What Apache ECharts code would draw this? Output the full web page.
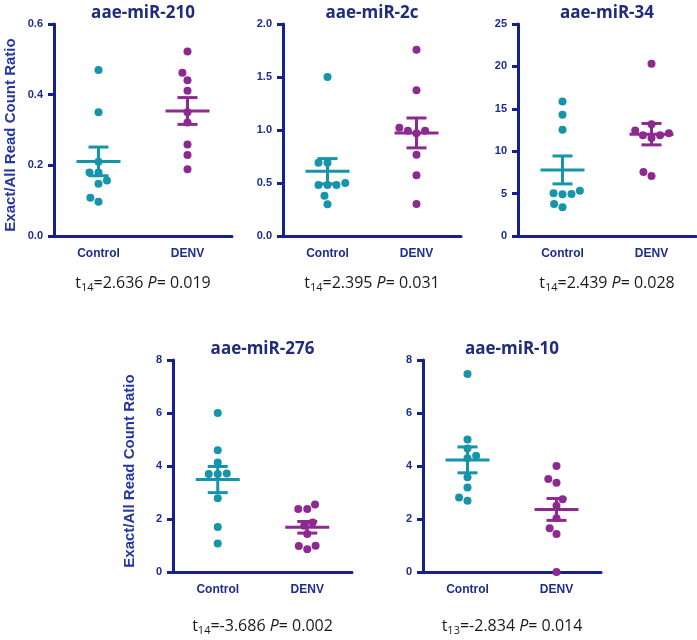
<!DOCTYPE html>
<html><head><meta charset="utf-8">
<script src="https://cdn.jsdelivr.net/npm/echarts@6/dist/echarts.min.js"></script>
<style>html,body{margin:0;padding:0;background:#fff}#c{width:697px;height:640px}</style>
</head><body><div id="c"></div>
<script>
// ---- data ----
const groups = ['Control', 'DENV'];
const panelTitles = ['aae-miR-210', 'aae-miR-2c', 'aae-miR-34', 'aae-miR-276', 'aae-miR-10'];
const dfs = ['14', '14', '14', '14', '13'];
const tValues = ['2.636', '2.395', '2.439', '-3.686', '-2.834'];
const pValues = ['0.019', '0.031', '0.028', '0.002', '0.014'];
const yMaxes = [0.6, 2.0, 25, 8, 8];
const ySteps = [0.2, 0.5, 5, 2, 2];
const yAxisName = 'Exact/All Read Count Ratio';

const control210 = [0.47, 0.35, 0.21, 0.18, 0.18, 0.157, 0.148, 0.108, 0.097];
const denv210    = [0.522, 0.462, 0.441, 0.411, 0.35, 0.321, 0.259, 0.229, 0.189];
const control2c  = [1.50, 0.69, 0.69, 0.50, 0.48, 0.48, 0.48, 0.38, 0.30];
const denv2c     = [1.756, 1.375, 1.022, 0.994, 0.969, 0.994, 0.766, 0.572, 0.303];
const control34  = [15.87, 14.29, 12.52, 5.04, 4.92, 4.96, 5.35, 3.78, 3.39];
const denv34     = [20.31, 13.19, 12.44, 12.13, 11.89, 11.89, 11.57, 7.56, 7.09];
const control276 = [6.0, 4.59, 4.13, 3.70, 3.70, 3.72, 2.78, 1.70, 1.08];
const denv276    = [2.55, 2.38, 2.38, 1.87, 1.75, 1.43, 0.99, 0.86, 0.98];
const control10  = [7.47, 5.0, 4.66, 4.39, 4.29, 3.58, 3.19, 2.81, 2.69];
const denv10     = [4.0, 3.51, 3.37, 2.75, 2.50, 2.03, 1.65, 1.43, 0.0];

const panelData = [
  [control210, denv210], [control2c, denv2c], [control34, denv34],
  [control276, denv276], [control10, denv10]
];

// ---- layout / style ----
const grids = [
  {left: 54, top: 24, width: 178, height: 212},
  {left: 283, top: 24, width: 178, height: 212},
  {left: 518, top: 24, width: 178, height: 212},
  {left: 173, top: 360, width: 179, height: 212},
  {left: 423, top: 360, width: 178, height: 212}
];
const decimals = [1, 1, 0, 0, 0];
const colors = ['#1594aa', '#8d2a8f'];
const navy = '#16208f';
const labelNavy = '#1d2c8f';
const dotSize = 8;
const collide = 9;

function mean(a) { return a.reduce((s, v) => s + v, 0) / a.length; }
function sem(a) {
  const m = mean(a);
  const v = a.reduce((s, x) => s + (x - m) * (x - m), 0) / (a.length - 1);
  return Math.sqrt(v / a.length);
}
// beeswarm offsets (pixel) computed from values
function swarm(vals, pxPerUnit) {
  const idx = vals.map((v, i) => i).sort((a, b) => vals[a] - vals[b]);
  const placed = [];
  const off = new Array(vals.length).fill(0);
  let lastSign = 1;
  idx.forEach(i => {
    const y = vals[i] * pxPerUnit;
    const cands = [0];
    placed.forEach(p => {
      const dy = Math.abs(p.y - y);
      if (dy < collide) {
        const dx = Math.sqrt(collide * collide - dy * dy);
        cands.push(p.x + dx + 0.01, p.x - dx - 0.01);
      }
    });
    const ok = cands.filter(x => placed.every(p => (p.x - x) ** 2 + (p.y - y) ** 2 >= collide * collide - 0.5));
    ok.sort((a, b) => Math.abs(a) - Math.abs(b) || (lastSign > 0 ? a - b : b - a));
    const x = ok[0];
    if (x !== 0) lastSign = Math.sign(x);
    placed.push({x, y});
    off[i] = x;
  });
  return off;
}

const option = {
  animation: false,
  backgroundColor: '#fff',
  title: [], grid: [], xAxis: [], yAxis: [], series: []
};

panelData.forEach((pd, i) => {
  const g = grids[i];
  const cx = g.left + g.width / 2;
  option.grid.push(Object.assign({containLabel: false}, g));
  option.title.push({
    text: panelTitles[i], left: cx, top: g.top - 19, textAlign: 'center', padding: 0,
    textStyle: {fontFamily: 'Open Sans', fontWeight: 'bold', fontSize: 17, color: '#1f2b7e'}
  });
  option.title.push({
    text: 't{sub|' + dfs[i] + '}=' + tValues[i] + ' {it|P}= ' + pValues[i],
    left: cx, top: g.top + g.height + (i < 3 ? 37 : 44), textAlign: 'center', padding: 0,
    textStyle: {
      fontFamily: 'Open Sans', fontWeight: 'normal', fontSize: 16, color: '#1a1a1a', lineHeight: 20,
      rich: {
        sub: {fontFamily: 'Open Sans', fontWeight: 'normal', fontSize: 11, color: '#1a1a1a', verticalAlign: 'bottom', lineHeight: 20, padding: [6, 0, 0, 0]},
        it: {fontFamily: 'Open Sans', fontWeight: 'normal', fontSize: 16, color: '#1a1a1a', fontStyle: 'italic'}
      }
    }
  });
  option.xAxis.push({
    type: 'category', gridIndex: i, data: groups,
    axisLine: {lineStyle: {color: navy, width: 3}},
    axisTick: {alignWithLabel: true, length: 7, lineStyle: {color: navy, width: 3}},
    axisLabel: {fontFamily: 'Liberation Sans', fontWeight: 'bold', fontSize: 12, color: labelNavy, margin: 12},
    splitLine: {show: false}
  });
  option.yAxis.push({
    type: 'value', gridIndex: i, min: 0, max: yMaxes[i], interval: ySteps[i],
    name: (i === 0 || i === 3) ? yAxisName : '',
    nameLocation: 'middle', nameGap: 36,
    nameTextStyle: {fontFamily: 'Liberation Sans', fontWeight: 'bold', fontSize: 15, color: '#2536a3', padding: [0, 10, 0, 0]},
    axisLine: {show: true, lineStyle: {color: navy, width: 3}},
    axisTick: {show: true, length: 6, lineStyle: {color: navy, width: 3}},
    axisLabel: {fontFamily: 'Liberation Sans', fontWeight: 'bold', fontSize: 11, color: labelNavy, margin: 11,
      formatter: v => v.toFixed(decimals[i])},
    splitLine: {show: false}
  });
  const ppu = g.height / yMaxes[i];
  pd.forEach((vals, gi) => {
    const off = swarm(vals, ppu);
    option.series.push({
      type: 'scatter', xAxisIndex: i, yAxisIndex: i, symbolSize: dotSize, z: 2,
      itemStyle: {color: colors[gi], opacity: 1},
      data: vals.map((v, k) => ({value: [gi, v], symbolOffset: [off[k], 0]}))
    });
  });
  option.series.push({
    type: 'custom', xAxisIndex: i, yAxisIndex: i, z: 3,
    data: pd.map((vals, gi) => { const m = mean(vals), s = sem(vals); return [gi, m, m - s, m + s]; }),
    renderItem: (params, api) => {
      const gi = api.value(0);
      const c = api.coord([gi, api.value(1)]);
      const lo = api.coord([gi, api.value(2)]);
      const hi = api.coord([gi, api.value(3)]);
      const style = {stroke: colors[gi], lineWidth: 3};
      return {type: 'group', children: [
        {type: 'line', shape: {x1: c[0] - 22, y1: c[1], x2: c[0] + 22, y2: c[1]}, style},
        {type: 'line', shape: {x1: c[0], y1: lo[1], x2: c[0], y2: hi[1]}, style},
        {type: 'line', shape: {x1: c[0] - 10, y1: hi[1], x2: c[0] + 10, y2: hi[1]}, style},
        {type: 'line', shape: {x1: c[0] - 10, y1: lo[1], x2: c[0] + 10, y2: lo[1]}, style}
      ]};
    }
  });
});

const chart = echarts.init(document.getElementById('c'), null, {renderer: 'canvas'});
chart.setOption(option);
</script>
</body></html>
